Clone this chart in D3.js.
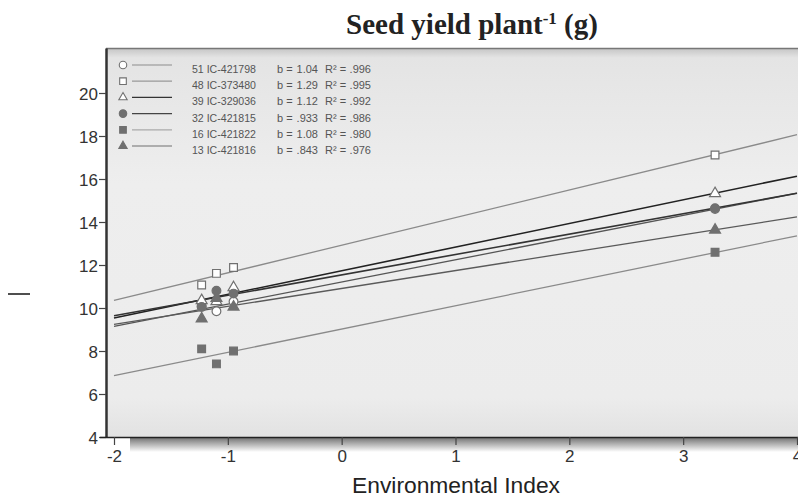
<!DOCTYPE html>
<html>
<head>
<meta charset="utf-8">
<script src="https://cdn.jsdelivr.net/npm/d3@7"></script>
<style>
  body { margin: 0; background: #fff; }
  svg { display: block; }
</style>
</head>
<body>
<svg id="chart" width="798" height="501"></svg>
<script>
// environmental index of the four environments
var envIndex = [-1.23, -1.10, -0.95, 3.28];

var genotypes = ["51 IC-421798", "48 IC-373480", "39 IC-329036", "32 IC-421815", "16 IC-421822", "13 IC-421816"];
var bLabels = ["1.04", "1.29", "1.12", ".933", "1.08", ".843"];
var r2Labels = [".996", ".995", ".992", ".986", ".980", ".976"];

// seed yield per plant (g) in each environment
var y51 = [10.09, 9.85, 10.30, 14.60];
var y48 = [11.07, 11.61, 11.88, 17.12];
var y39 = [10.35, 10.30, 10.95, 15.33];
var y32 = [10.05, 10.80, 10.67, 14.64];
var y16 = [8.10, 7.40, 8.00, 12.59];
var y13 = [9.50, 10.45, 10.05, 13.63];

var yTicks = [4, 6, 8, 10, 12, 14, 16, 18, 20];
var xTicks = [-2, -1, 0, 1, 2, 3, 4];

var seriesValues = [y51, y48, y39, y32, y16, y13];
var shapes = [d3.symbolCircle, d3.symbolSquare, d3.symbolTriangle, d3.symbolCircle, d3.symbolSquare, d3.symbolTriangle];
var filled = [false, false, false, true, true, true];
var lineColors = ["#555", "#8a8a8a", "#222", "#333", "#8a8a8a", "#5a5a5a"];
var legendLineColors = ["#aaa", "#999", "#333", "#444", "#aaa", "#999"];

var svg = d3.select("#chart");
var pLeft = 106, pRight = 798, pTop = 48, pBottom = 437;

var x = d3.scaleLinear().domain([-2, 4]).range([114, 797]);
var y = d3.scaleLinear().domain([4, 4 + (pBottom - pTop) / 21.5]).range([pBottom, pTop]);

var defs = svg.append("defs");
var bg = defs.append("linearGradient").attr("id", "bg").attr("x1", 0).attr("y1", 0).attr("x2", 0).attr("y2", 1);
bg.append("stop").attr("offset", "0%").attr("stop-color", "#c4c4c4");
bg.append("stop").attr("offset", "2.5%").attr("stop-color", "#e4e4e4");
bg.append("stop").attr("offset", "35%").attr("stop-color", "#eeeeee");
bg.append("stop").attr("offset", "90%").attr("stop-color", "#ececec");
bg.append("stop").attr("offset", "100%").attr("stop-color", "#e2e2e2");
var sh = defs.append("linearGradient").attr("id", "shadow").attr("x1", 0).attr("y1", 0).attr("x2", 0).attr("y2", 1);
sh.append("stop").attr("offset", "0%").attr("stop-color", "#6e6e6e");
sh.append("stop").attr("offset", "100%").attr("stop-color", "#fff");
defs.append("clipPath").attr("id", "clip")
    .append("rect").attr("x", pLeft).attr("y", pTop).attr("width", pRight - pLeft).attr("height", pBottom - pTop);

// shadow under the plot
svg.append("rect").attr("x", 130).attr("y", pBottom).attr("width", pRight - 130).attr("height", 15)
    .attr("fill", "url(#shadow)");

// plot background
svg.append("rect").attr("x", pLeft).attr("y", pTop).attr("width", pRight - pLeft).attr("height", pBottom - pTop)
    .attr("fill", "url(#bg)");
svg.append("line").attr("x1", pLeft).attr("x2", pRight).attr("y1", pTop + 0.5).attr("y2", pTop + 0.5)
    .attr("stroke", "#777").attr("stroke-width", 1.5);

// axes
var fmt = function (d) { return String(d); };
var yAxis = svg.append("g").attr("transform", "translate(" + pLeft + ",0)")
    .call(d3.axisLeft(y).tickValues(yTicks).tickSize(7).tickSizeOuter(0).tickFormat(fmt));
var xAxis = svg.append("g").attr("transform", "translate(0," + pBottom + ")")
    .call(d3.axisBottom(x).tickValues(xTicks).tickSize(8).tickSizeOuter(0).tickFormat(fmt));
yAxis.select(".domain").attr("stroke", "#333").attr("stroke-width", 2.5);
xAxis.select(".domain").attr("d", "M100,0.5H" + pRight).attr("stroke", "#222").attr("stroke-width", 1.5);
svg.selectAll(".tick line").attr("stroke", "#444").attr("stroke-width", 1.2);
svg.selectAll(".tick text").attr("font-family", "Liberation Sans, Arial, sans-serif")
    .attr("font-size", 17).attr("fill", "#333");
yAxis.selectAll(".tick text").attr("x", -8).attr("dy", "0.36em");
xAxis.selectAll(".tick text").attr("y", 13);

// regression lines from least squares fits
var plot = svg.append("g").attr("clip-path", "url(#clip)");
var mx = d3.mean(envIndex);
var fits = seriesValues.map(function (vals) {
    var my = d3.mean(vals);
    var sxy = d3.sum(envIndex, function (v, i) { return (v - mx) * (vals[i] - my); });
    var sxx = d3.sum(envIndex, function (v) { return (v - mx) * (v - mx); });
    var b = sxy / sxx;
    return { b: b, a: my - b * mx };
});
var line = d3.line().x(function (d) { return x(d[0]); }).y(function (d) { return y(d[1]); });
plot.selectAll("path.fit")
    .data(fits)
    .enter()
    .append("path")
    .attr("class", "fit")
    .attr("d", function (f) { return line([[-2, f.a - 2 * f.b], [4, f.a + 4 * f.b]]); })
    .attr("fill", "none")
    .attr("stroke", function (f, i) { return lineColors[i]; })
    .attr("stroke-width", function (f, i) { return (i === 2 || i === 3) ? 1.6 : 1.3; });

// points
seriesValues.forEach(function (vals, s) {
    var sym = d3.symbol().type(shapes[s]).size(shapes[s] === d3.symbolTriangle ? 52 : 60);
    plot.selectAll(null)
        .data(vals)
        .enter()
        .append("path")
        .attr("d", sym)
        .attr("transform", function (d, i) { return "translate(" + x(envIndex[i]) + "," + y(d) + ")"; })
        .attr("fill", filled[s] ? "#707070" : "#fff")
        .attr("stroke", "#707070")
        .attr("stroke-width", 1.2);
});

// legend
var legend = svg.append("g");
var rows = legend.selectAll("g")
    .data(genotypes)
    .enter()
    .append("g")
    .attr("transform", function (d, i) { return "translate(0," + (65 + i * 16.2) + ")"; });
rows.append("path")
    .attr("d", function (d, i) {
        return d3.symbol().type(shapes[i]).size(shapes[i] === d3.symbolTriangle ? 30 : 44)();
    })
    .attr("transform", "translate(123,0)")
    .attr("fill", function (d, i) { return filled[i] ? "#707070" : "#fff"; })
    .attr("stroke", "#707070")
    .attr("stroke-width", 1.1);
rows.append("line")
    .attr("x1", 132).attr("x2", 172).attr("y1", 0).attr("y2", 0)
    .attr("stroke", function (d, i) { return legendLineColors[i]; })
    .attr("stroke-width", 1.3);
var legendFont = { "font-family": "Liberation Sans, Arial, sans-serif", "font-size": 11, "fill": "#555" };
function styleText(sel) {
    Object.keys(legendFont).forEach(function (k) { sel.attr(k, legendFont[k]); });
    return sel;
}
styleText(rows.append("text").attr("x", 192).attr("y", 8).attr("textLength", 64)
    .attr("lengthAdjust", "spacingAndGlyphs").text(function (d) { return d; }));
styleText(rows.append("text").attr("x", 277).attr("y", 8).text("b ="));
styleText(rows.append("text").attr("x", 318).attr("y", 8).attr("text-anchor", "end")
    .text(function (d, i) { return bLabels[i]; }));
styleText(rows.append("text").attr("x", 325).attr("y", 8).text("R\u00b2 ="));
styleText(rows.append("text").attr("x", 371).attr("y", 8).attr("text-anchor", "end")
    .text(function (d, i) { return r2Labels[i]; }));

// titles
var title = svg.append("text")
    .attr("x", 472).attr("y", 34)
    .attr("text-anchor", "middle")
    .attr("font-family", "Liberation Serif, Times New Roman, serif")
    .attr("font-weight", "bold")
    .attr("font-size", 29)
    .attr("fill", "#222");
title.append("tspan").text("Seed yield plant");
title.append("tspan").attr("dy", -10).attr("font-size", 17).text("-1");
title.append("tspan").attr("dy", 10).text(" (g)");

svg.append("text")
    .attr("x", 352).attr("y", 493)
    .attr("textLength", 208).attr("lengthAdjust", "spacingAndGlyphs")
    .attr("font-family", "Liberation Sans, Arial, sans-serif")
    .attr("font-size", 22)
    .attr("fill", "#222")
    .text("Environmental Index");

// stray mark left of the y axis
svg.append("line").attr("x1", 8).attr("x2", 30).attr("y1", 294).attr("y2", 294)
    .attr("stroke", "#222").attr("stroke-width", 1.6);
</script>
</body>
</html>
